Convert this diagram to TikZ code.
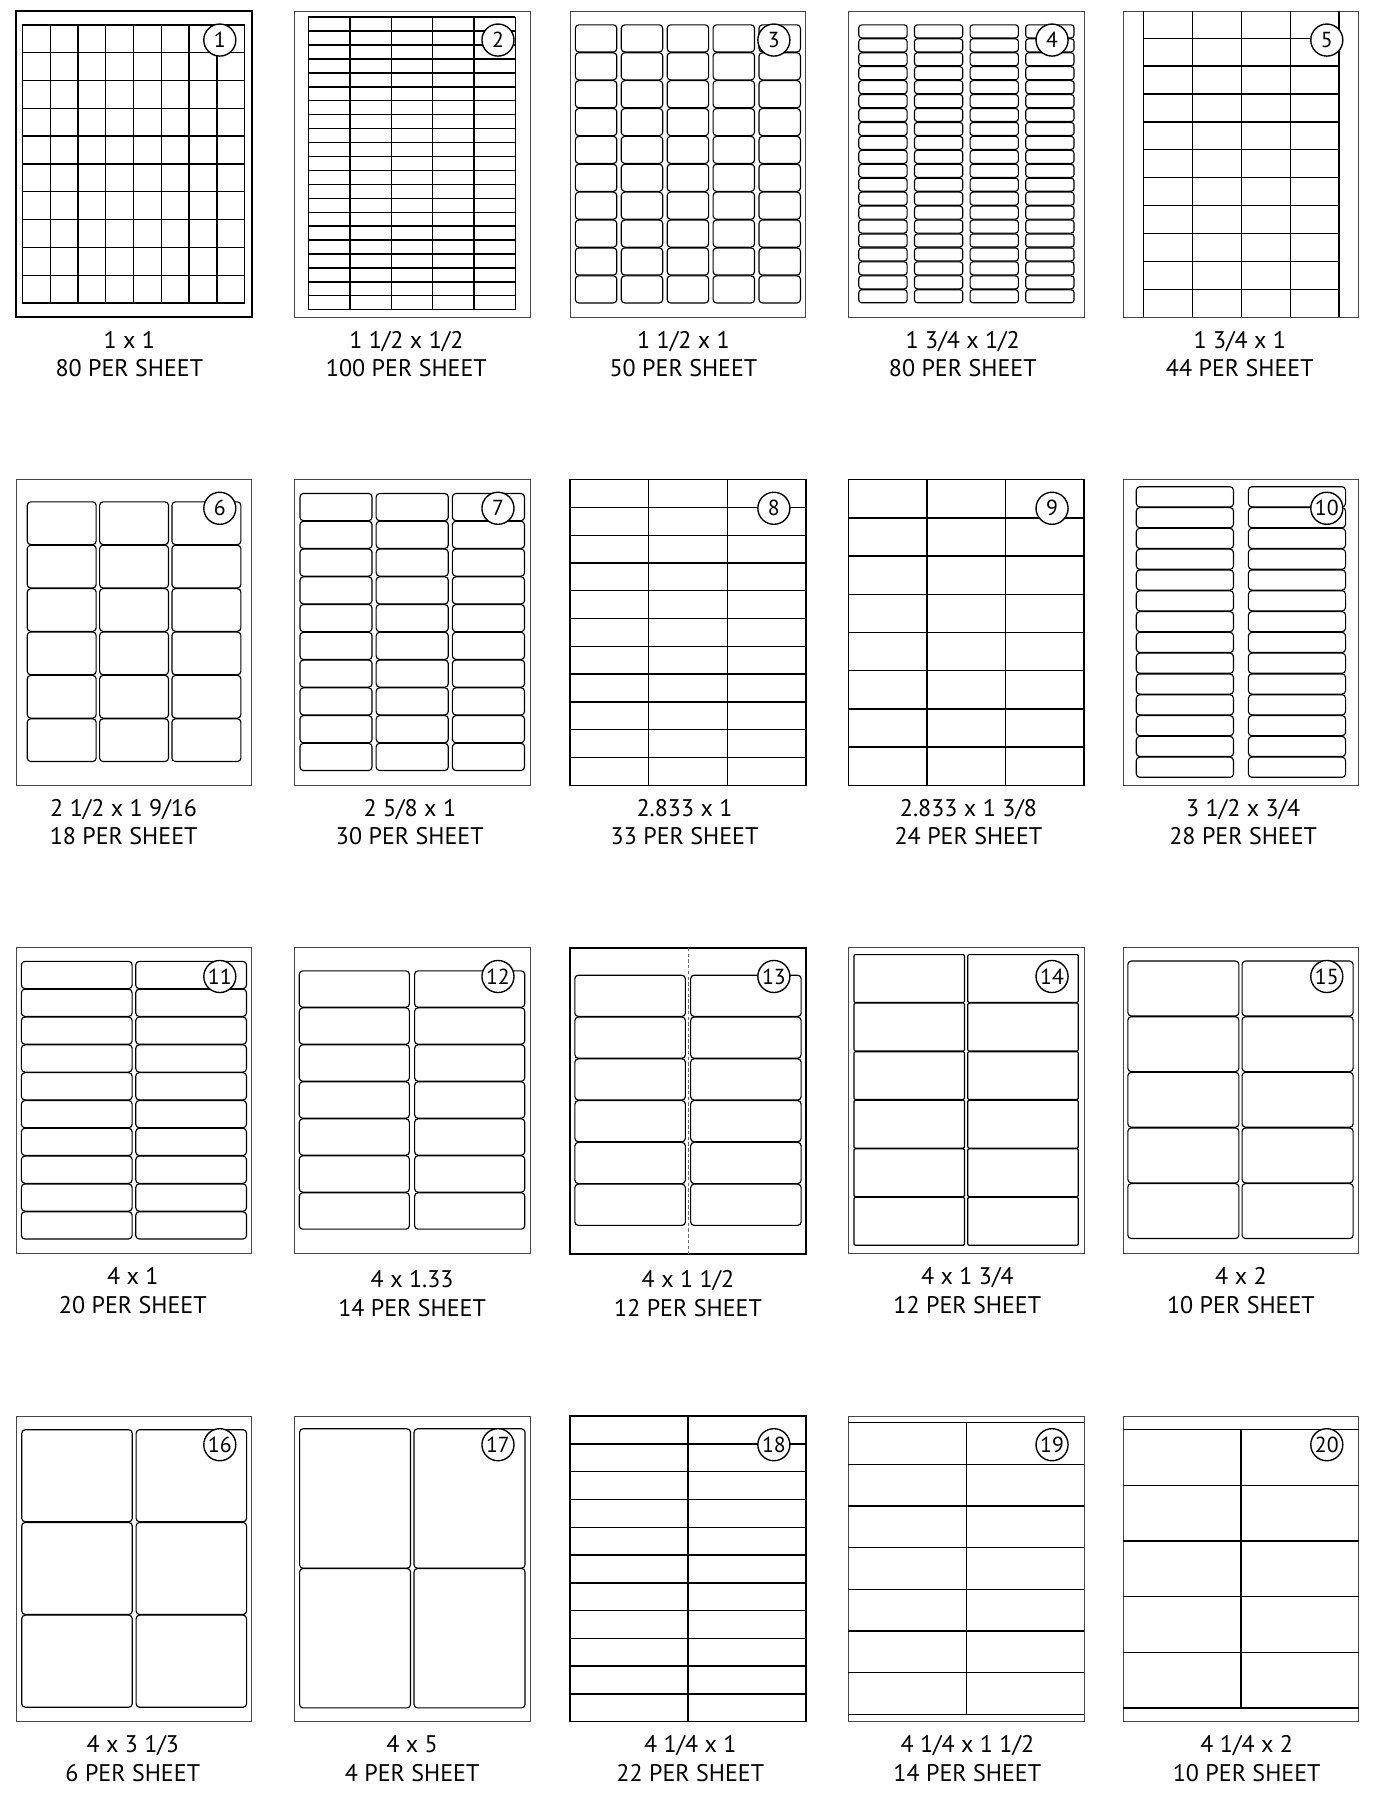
\documentclass[tikz,border=0pt]{standalone}
\usepackage{fontspec}
\setmainfont{PT Sans}
\usetikzlibrary{positioning}
\definecolor{cmarco}{RGB}{70,70,70}
\definecolor{cguia}{RGB}{110,110,110}

% rejilla de etiquetas redondeadas: cols, filas, x0, paso x, ancho, y0, paso y, alto
\newcommand{\etiquetas}[8]{%
  \foreach \i in {1,...,#1}
    \foreach \j in {1,...,#2}
      \draw[etq] ({#3+(\i-1)*#4},{#6+(\j-1)*#7}) rectangle ++(#5,#8);
}
% numero de la hoja
\newcommand{\numero}[1]{\node[num] (n#1) at (178,25) {#1};}
% pie de la hoja: numero, x, y, medida, cantidad
\newcommand{\pie}[5]{%
  \node[pie] (d#1) at (#2,#3) {#4};
  \node[pie] (p#1) at (#2,{#3+25}) {#5};
}

\begin{document}
\begin{tikzpicture}[x=1pt, y=-1pt,
    marco/.style={draw=cmarco, line width=0.9pt},
    marcog/.style={draw=black, line width=1.8pt},
    linea/.style={draw=black, line width=1.2pt},
    etq/.style={draw=black, line width=1pt, rounded corners=3pt},
    num/.style={circle, draw=black, fill=white, line width=1.2pt, minimum size=28pt, inner sep=0pt, font=\fontsize{19}{19}\selectfont},
    pie/.style={anchor=base, font=\fontsize{21}{24}\selectfont}]

  \useasboundingbox[fill=white] (0,0) rectangle (1199,1568);

  % fila 1
  \begin{scope}[shift={(14,10)}]
    \draw[marcog] (0,0) rectangle (206,267);
    \foreach \k in {0,...,8} \draw[linea] ({5.6+\k*24.275},11.7) -- ({5.6+\k*24.275},254.7);
    \foreach \k in {0,...,10} \draw[linea] (5.6,{11.7+\k*24.3}) -- (199.8,{11.7+\k*24.3});
    \numero{1}
    \pie{1}{99}{294}{1 x 1}{80 PER SHEET}
  \end{scope}

  \begin{scope}[shift={(257,10)}]
    \draw[marco] (0,0) rectangle (206,267);
    \foreach \k in {0,...,5} \draw[linea] ({12.4+\k*36.18},5) -- ({12.4+\k*36.18},260.6);
    \foreach \k in {0,...,21} \draw[linea] (12.4,{5+\k*12.17}) -- (193.3,{5+\k*12.17});
    \numero{2}
    \pie{2}{98}{294}{1 1/2 x 1/2}{100 PER SHEET}
  \end{scope}

  \begin{scope}[shift={(498,10)}]
    \draw[marco] (0,0) rectangle (206,267);
    \etiquetas{5}{10}{4.6}{40.1}{36.2}{11.7}{24.36}{23.7}
    \numero{3}
    \pie{3}{99}{294}{1 1/2 x 1}{50 PER SHEET}
  \end{scope}

  \begin{scope}[shift={(741,10)}]
    \draw[marco] (0,0) rectangle (206,267);
    \begin{scope}[etq/.append style={rounded corners=2.5pt}]
      \etiquetas{4}{20}{9.2}{48.6}{42.2}{11.7}{12.18}{11.4}
    \end{scope}
    \numero{4}
    \pie{4}{100}{294}{1 3/4 x 1/2}{80 PER SHEET}
  \end{scope}

  \begin{scope}[shift={(981,10)}]
    \draw[marco] (0,0) rectangle (206,267);
    \foreach \x in {17.9,60.6,103.7,146.4,188.6} \draw[linea] (\x,0) -- (\x,267);
    \foreach \k in {0,...,9} \draw[linea] (17.9,{23.4+\k*24.36}) -- (188.6,{23.4+\k*24.36});
    \numero{5}
    \pie{5}{102}{294}{1 3/4 x 1}{44 PER SHEET}
  \end{scope}

  % fila 2
  \begin{scope}[shift={(14,419)}]
    \draw[marco] (0,0) rectangle (206,267);
    \etiquetas{3}{6}{9.8}{63.2}{60.2}{19.4}{37.9}{37.3}
    \numero{6}
    \pie{6}{94}{294}{2 1/2 x 1 9/16}{18 PER SHEET}
  \end{scope}

  \begin{scope}[shift={(257,419)}]
    \draw[marco] (0,0) rectangle (206,267);
    \etiquetas{3}{10}{5}{66.6}{63}{12.1}{24.25}{23.7}
    \numero{7}
    \pie{7}{101}{294}{2 5/8 x 1}{30 PER SHEET}
  \end{scope}

  \begin{scope}[shift={(498,419)}]
    \draw[linea] (0,0) rectangle (206,267);
    \foreach \k in {1,2} \draw[linea] ({\k*206/3},0) -- ({\k*206/3},267);
    \foreach \k in {1,...,10} \draw[linea] (0,{\k*267/11}) -- (206,{\k*267/11});
    \numero{8}
    \pie{8}{100}{294}{2.833 x 1}{33 PER SHEET}
  \end{scope}

  \begin{scope}[shift={(741,419)}]
    \draw[linea] (0,0) rectangle (206,267);
    \foreach \k in {1,2} \draw[linea] ({\k*206/3},0) -- ({\k*206/3},267);
    \foreach \k in {1,...,7} \draw[linea] (0,{\k*267/8}) -- (206,{\k*267/8});
    \numero{9}
    \pie{9}{105}{294}{2.833 x 1 3/8}{24 PER SHEET}
  \end{scope}

  \begin{scope}[shift={(981,419)}]
    \draw[marco] (0,0) rectangle (206,267);
    \etiquetas{2}{14}{11.6}{97.9}{84.9}{6.2}{18.17}{17.6}
    \numero{10}
    \pie{10}{105}{294}{3 1/2 x 3/4}{28 PER SHEET}
  \end{scope}

  % fila 3
  \begin{scope}[shift={(14,828)}]
    \draw[marco] (0,0) rectangle (206,267);
    \etiquetas{2}{10}{4.7}{99.9}{96.7}{11.8}{24.3}{23.8}
    \numero{11}
    \pie{11}{102}{294}{4 x 1}{20 PER SHEET}
  \end{scope}

  \begin{scope}[shift={(257,828)}]
    \draw[marco] (0,0) rectangle (206,267);
    \etiquetas{2}{7}{4.4}{100.8}{96.2}{20.1}{32.3}{31.8}
    \numero{12}
    \pie{12}{103}{297}{4 x 1.33}{14 PER SHEET}
  \end{scope}

  \begin{scope}[shift={(498,828)}]
    \draw[marcog] (0,0) rectangle (206,267);
    \draw[cguia, line width=0.8pt, dash pattern=on 3pt off 2pt] (103,0) -- (103,267);
    \etiquetas{2}{6}{4.2}{101.1}{96.5}{23.9}{36.5}{36}
    \numero{13}
    \pie{13}{103}{297}{4 x 1 1/2}{12 PER SHEET}
  \end{scope}

  \begin{scope}[shift={(741,828)}]
    \draw[marco] (0,0) rectangle (206,267);
    \begin{scope}[etq/.append style={rounded corners=1pt}]
      \etiquetas{2}{6}{5}{99.4}{96.5}{5.9}{42.4}{41.8}
    \end{scope}
    \numero{14}
    \pie{14}{104}{294}{4 x 1 3/4}{12 PER SHEET}
  \end{scope}

  \begin{scope}[shift={(981,828)}]
    \draw[marco] (0,0) rectangle (206,267);
    \etiquetas{2}{5}{4.2}{99.8}{97}{11.5}{48.6}{48}
    \numero{15}
    \pie{15}{103}{294}{4 x 2}{10 PER SHEET}
  \end{scope}

  % fila 4
  \begin{scope}[shift={(14,1237)}]
    \draw[marco] (0,0) rectangle (206,267);
    \etiquetas{2}{3}{5}{99.9}{96.5}{11.9}{81}{80.4}
    \numero{16}
    \pie{16}{102}{294}{4 x 3 1/3}{6 PER SHEET}
  \end{scope}

  \begin{scope}[shift={(257,1237)}]
    \draw[marco] (0,0) rectangle (206,267);
    \etiquetas{2}{2}{4.7}{100}{96.9}{11.1}{122}{121.8}
    \numero{17}
    \pie{17}{103}{294}{4 x 5}{4 PER SHEET}
  \end{scope}

  \begin{scope}[shift={(498,1237)}]
    \draw[linea] (0,0) rectangle (206,267);
    \draw[linea] (103,0) -- (103,267);
    \foreach \k in {1,...,10} \draw[linea] (0,{\k*267/11}) -- (206,{\k*267/11});
    \numero{18}
    \pie{18}{105}{294}{4 1/4 x 1}{22 PER SHEET}
  \end{scope}

  \begin{scope}[shift={(741,1237)}]
    \draw[marco] (0,0) rectangle (206,267);
    \draw[linea] (103,5.8) -- (103,260.6);
    \foreach \k in {0,...,7} \draw[linea] (0,{5.8+\k*36.4}) -- (206,{5.8+\k*36.4});
    \numero{19}
    \pie{19}{104}{294}{4 1/4 x 1 1/2}{14 PER SHEET}
  \end{scope}

  \begin{scope}[shift={(981,1237)}]
    \draw[marco] (0,0) rectangle (206,267);
    \draw[linea] (103,11.7) -- (103,255);
    \foreach \k in {0,...,5} \draw[linea] (0,{11.7+\k*48.66}) -- (206,{11.7+\k*48.66});
    \numero{20}
    \pie{20}{108}{294}{4 1/4 x 2}{10 PER SHEET}
  \end{scope}
\end{tikzpicture}
\end{document}
